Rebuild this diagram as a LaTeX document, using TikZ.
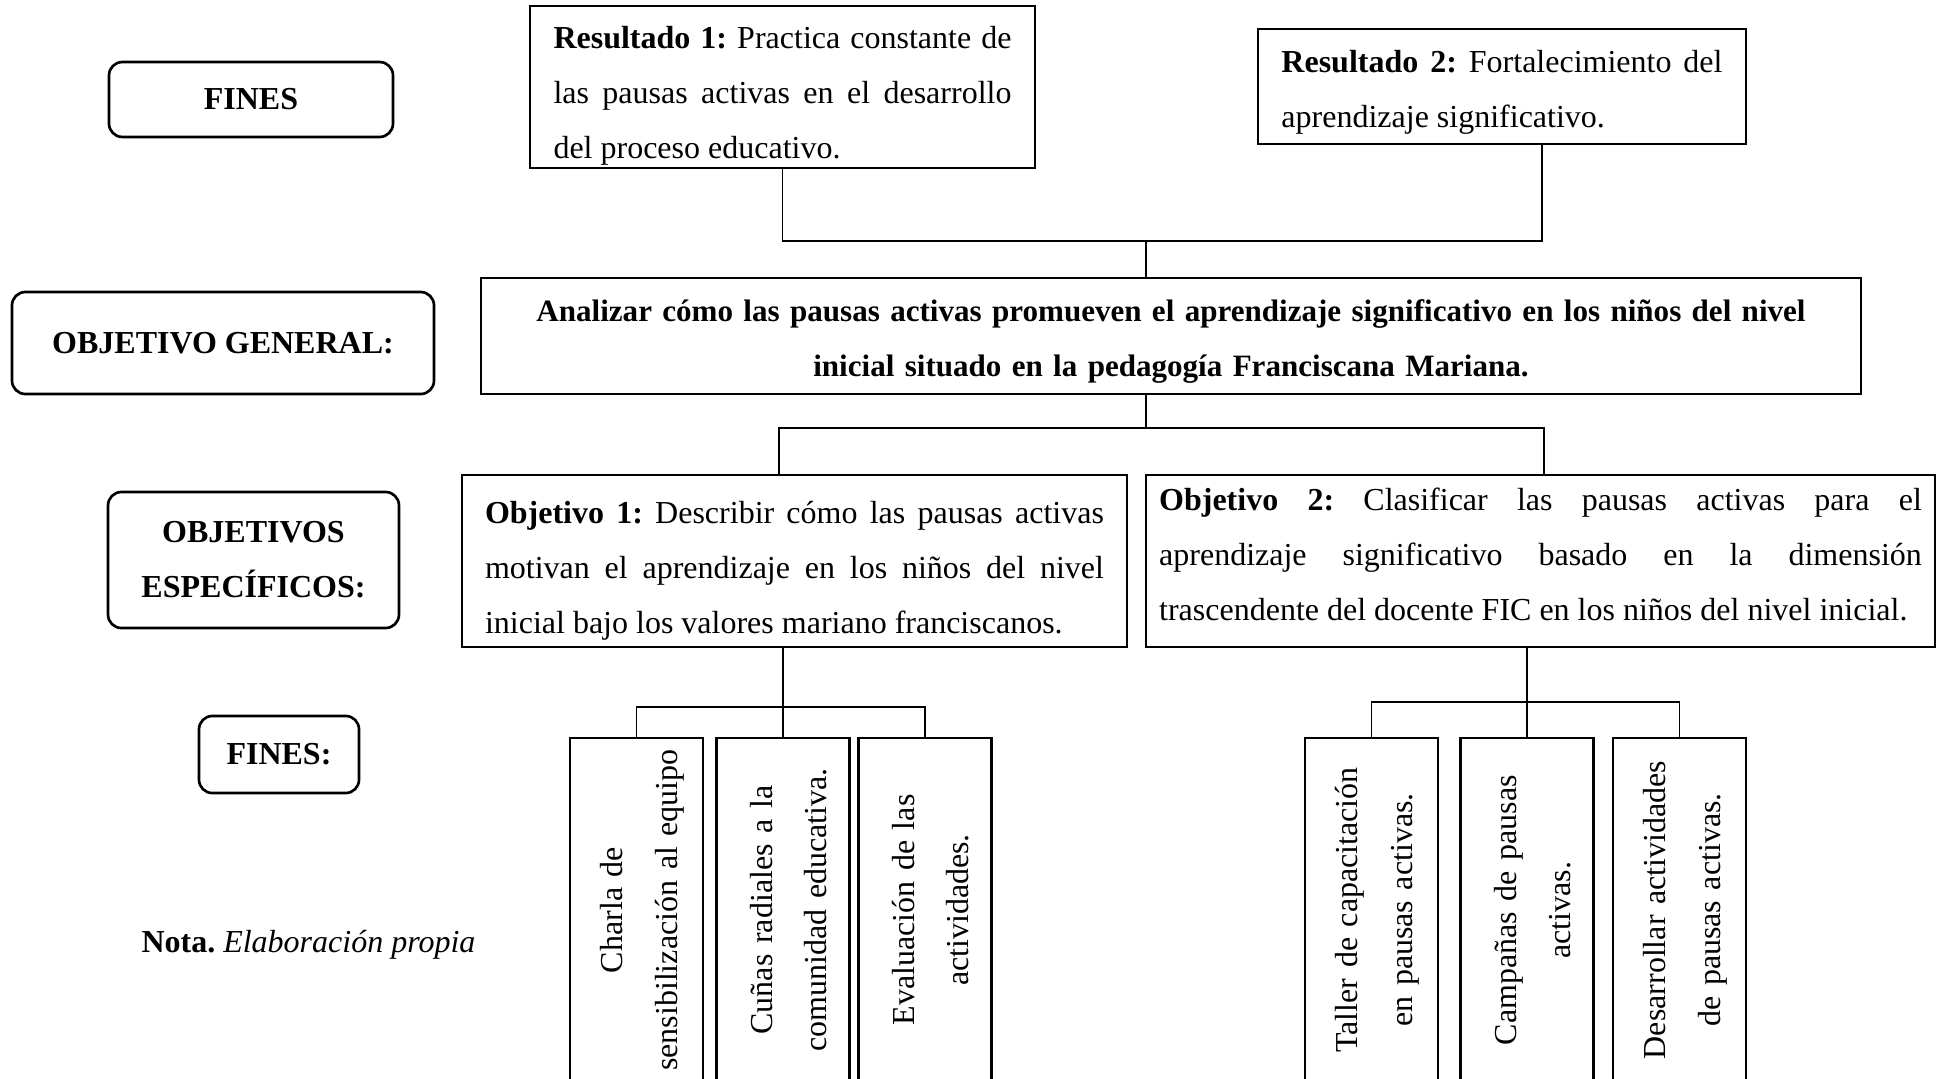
\documentclass[tikz,border=0pt]{standalone}
\usepackage{fontspec}
\setmainfont{Liberation Serif}
\usetikzlibrary{positioning}
\tolerance=10000
\hyphenpenalty=10000
\frenchspacing
\newcommand{\textlift}[1]{\endgraf\kern#1}

\begin{document}
\begin{tikzpicture}[x=0.375pt, y=-0.375pt,
    every node/.style={font=\fontsize{12}{20.6}\selectfont},
    sidebox/.style={draw, line width=1pt, rounded corners=5pt, align=center, font=\fontsize{12}{20.6}\selectfont\bfseries},
    mainbox/.style={draw, line width=0.9pt, align=justify, inner sep=0pt, execute at end node={\textlift{#1}}},
    mainbox/.default=-7pt,
    actbox/.style={draw, line width=0.9pt, rotate=90, align=center, minimum width=129pt, minimum height=49.9pt,
        text width=125pt, inner sep=0pt, execute at end node={\textlift{-4.2pt}}},
    link/.style={line width=0.45pt}]
    \useasboundingbox (0,0) rectangle (1937,1078);
    \clip (0,0) rectangle (1937,1078);

    % Labels
    \node[sidebox, minimum width=106.5pt, minimum height=28.1pt] (fines) at (251,99.5) {FINES};
    \node[sidebox, minimum width=158.25pt, minimum height=38.25pt] (general) at (223,343) {OBJETIVO GENERAL:};
    \node[sidebox, minimum width=109.1pt, minimum height=51pt] (especificos) at (253.5,560) {OBJETIVOS\\ESPECÍFICOS:};
    \node[sidebox, minimum width=60pt, minimum height=28.9pt] (fines2) at (279,754.5) {FINES:};
    \node[anchor=west, inner sep=0pt] (nota) at (141,945) {\textbf{Nota.} \textit{Elaboración propia}};

    % Boxes
    \node[mainbox=-6.9pt, text width=171.75pt, minimum width=189.4pt, minimum height=60.75pt] (res1) at (782.5,87)
        {\textbf{Resultado 1:} Practica constante de\linebreak las pausas activas en el desarrollo\linebreak del proceso educativo.};
    \node[mainbox=-4.2pt, text width=165.4pt, minimum width=183pt, minimum height=43.1pt] (res2) at (1502,86.5)
        {\textbf{Resultado 2:} Fortalecimiento del\linebreak aprendizaje significativo.};
    \node[mainbox=-4.2pt, align=center, text width=500pt, minimum width=517.5pt, minimum height=43.5pt,
        font=\fontsize{11.65}{20.6}\selectfont\bfseries] (gen) at (1171,336)
        {Analizar cómo las pausas activas promueven el aprendizaje significativo en los niños del nivel\\inicial situado en la pedagogía Franciscana Mariana.};
    \node[mainbox=-7.1pt, text width=232.1pt, minimum width=249.4pt, minimum height=64.5pt] (obj1) at (794.5,561)
        {\textbf{Objetivo 1:} Describir cómo las pausas activas\linebreak motivan el aprendizaje en los niños del nivel\linebreak inicial bajo los valores mariano franciscanos.};
    \node[mainbox=4.9pt, text width=286pt, minimum width=295.9pt, minimum height=64.5pt] (obj2) at (1540.5,561)
        {\textbf{Objetivo 2:} Clasificar las pausas activas para el\linebreak aprendizaje significativo basado en la dimensión\linebreak trascendente del docente FIC en los niños del nivel inicial.};

    % Activities
    \node[actbox] (b1) at (636.5,910) {Charla de\\sensibilización al equipo};
    \node[actbox] (b2) at (783,910) {Cuñas radiales a la\\comunidad educativa.};
    \node[actbox] (b3) at (925,910) {Evaluación de las\\actividades.};
    \node[actbox] (b4) at (1371.5,910) {Taller de capacitación\\en pausas activas.};
    \node[actbox] (b5) at (1527,910) {Campañas de pausas\\activas.};
    \node[actbox] (b6) at (1679.5,910) {Desarrollar actividades\\de pausas activas.};

    % Lines
    \coordinate (j1) at (1146,241);
    \coordinate (j2) at (1146,428);
    \coordinate (j3) at (780,707);
    \coordinate (j4) at (1527,702);
    \draw[link] (res1.south) |- (j1) -| ([xshift=15pt]res2.south);
    \draw[link] (j1) -- (j1 |- gen.north);
    \draw[link] (j2 |- gen.south) -- (j2);
    \draw[link] ([xshift=-5.8pt]obj1.north) |- (j2) -| ([xshift=1.3pt]obj2.north);
    \draw[link] (b2.east |- obj1.south) -- (b2.east);
    \draw[link] (b1.east) |- (j3) -| (b3.east);
    \draw[link] (b5.east |- obj2.south) -- (b5.east);
    \draw[link] (b4.east) |- (j4) -| (b6.east);
\end{tikzpicture}
\end{document}
